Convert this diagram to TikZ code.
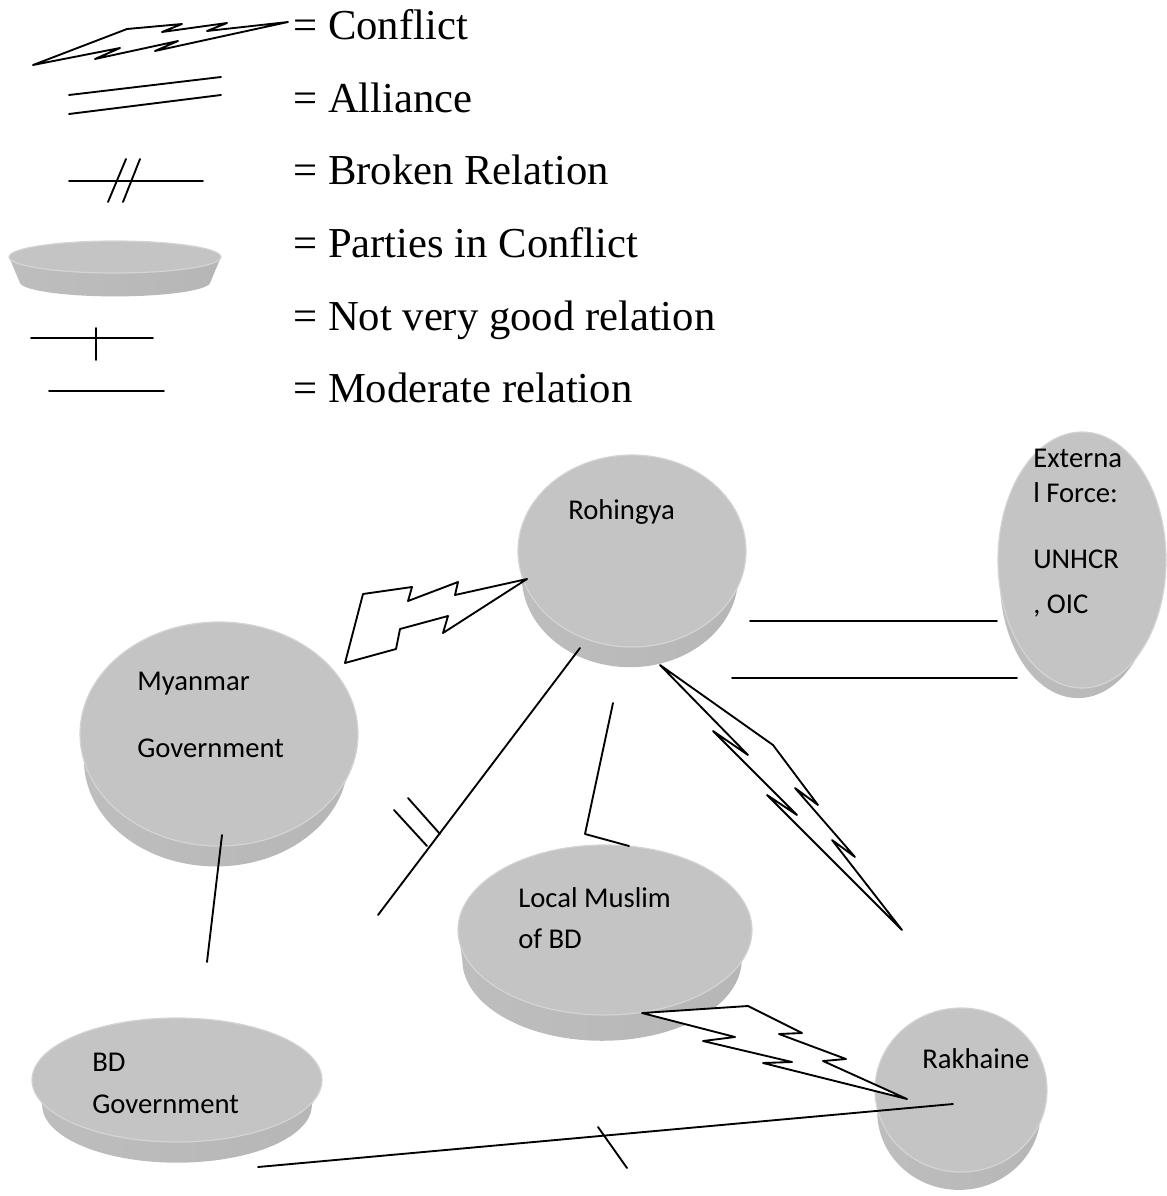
\documentclass[tikz,border=0pt]{standalone}
\usepackage{fontspec}
\setmainfont{Liberation Serif}
\newfontfamily\calibri{Carlito}
\usetikzlibrary{shapes.geometric}

\definecolor{facegray}{HTML}{C4C4C4}
\definecolor{rimgray}{HTML}{D4D4D4}
\definecolor{sideleft}{HTML}{BEBEBE}
\definecolor{sidemid}{HTML}{A3A3A3}
\definecolor{sideright}{HTML}{B6B6B6}

\tikzset{
  face/.style={ellipse, fill=facegray, draw=rimgray, line width=0.9pt, inner sep=0pt, outer sep=0pt},
  rel/.style={line width=1.4pt, line join=round, line cap=round},
  bolt/.style={rel, fill=white},
  lbl/.style={font=\calibri\fontsize{21.5}{26}\selectfont, anchor=base west, inner sep=0pt},
  legtext/.style={font=\fontsize{32}{38}\selectfont, anchor=base west, inner sep=0pt}
}

% A raised disk: #1 name, #2 cx, #3 cy, #4 rx, #5 ry, #6 depth,
% #7 scale of the base ellipse, #8 horizontal shift of the base
\newcommand{\disk}[8]{%
  \pgfmathsetmacro\dbx{#4*#7}%
  \pgfmathsetmacro\dby{#5*#7}%
  \pgfmathsetmacro\dcx{#2+#8}%
  \pgfmathsetmacro\dcy{#3+#6}%
  \pgfmathsetmacro\dkx{0.5523*\dbx}%
  \pgfmathsetmacro\dky{0.5523*\dby}%
  \shade[left color=sideleft, middle color=sidemid, right color=sideright]
    (#2-#4,#3) -- (\dcx-\dbx,\dcy)
    .. controls (\dcx-\dbx,\dcy+\dky) and (\dcx-\dkx,\dcy+\dby) .. (\dcx,\dcy+\dby)
    .. controls (\dcx+\dkx,\dcy+\dby) and (\dcx+\dbx,\dcy+\dky) .. (\dcx+\dbx,\dcy)
    -- (#2+#4,#3) -- cycle;
  \node[face, minimum width=#4*1.5pt, minimum height=#5*1.5pt] (#1) at (#2,#3) {};
}

\begin{document}
\begin{tikzpicture}[x=0.75pt, y=-0.75pt]
\fill[white] (0,0) rectangle (1167,1196);
\useasboundingbox (0,0) rectangle (1167,1196);

% ---------- legend ----------
\draw[rel] (33,65) -- (127,29) -- (182,24) -- (162,32) -- (227,23) -- (207,31) -- (288,22)
  -- (155,51) -- (178,41) -- (95,59) -- (120,48) -- cycle;
\node[legtext] (lgConflict) at (293,39) {= Conflict};

\draw[rel] (69,95) -- (221,77);
\draw[rel] (69,114) -- (221,95);
\node[legtext] (lgAlliance) at (293,112) {= Alliance};

\draw[rel] (69,181) -- (203,181);
\draw[rel] (108,202) -- (126,159);
\draw[rel] (123,202) -- (140,159);
\node[legtext] (lgBroken) at (293,184) {= Broken Relation};

\disk{legdisk}{115}{257}{106}{16}{25}{0.9}{0}
\node[legtext] (lgParties) at (293,257) {= Parties in Conflict};

\draw[rel] (31,338) -- (153,338);
\draw[rel] (96,328) -- (96,360);
\node[legtext] (lgNotGood) at (293,330) {= Not very good relation};

\draw[rel] (49,391) -- (164,391);
\node[legtext] (lgModerate) at (293,402) {= Moderate relation};

% ---------- parties ----------
\disk{roh}{632}{551}{114}{96}{25}{0.95}{-2}
\disk{ext}{1082}{560}{84}{128}{19}{0.93}{-4}
\disk{mg}{219}{734}{139}{112}{26}{0.95}{-3}
\disk{lm}{605}{930}{147}{85}{30}{0.95}{-3}
\disk{bd}{177}{1080}{145}{62}{25}{0.93}{0}
\disk{rak}{961}{1090}{86}{82}{22}{0.95}{-2}

\node[lbl] (rohText) at (568,519) {Rohingya};
\node[lbl] (extText1) at (1033,467) {Externa};
\node[lbl] (extText2) at (1033,502) {l Force:};
\node[lbl] (extText3) at (1033,568) {UNHCR};
\node[lbl] (extText4) at (1033,613) {, OIC};
\node[lbl] (mgText1) at (137,690) {Myanmar};
\node[lbl] (mgText2) at (137,757) {Government};
\node[lbl] (lmText1) at (518,907) {Local Muslim};
\node[lbl] (lmText2) at (518,948) {of BD};
\node[lbl] (bdText1) at (92,1071) {BD};
\node[lbl] (bdText2) at (92,1113) {Government};
\node[lbl] (rakText) at (922,1068) {Rakhaine};

% ---------- relation end points ----------
\coordinate (mgBolt) at (345,663);
\coordinate (rohBoltW) at (527,579);
\coordinate (rohBroken) at (580,648);
\coordinate (brokenEnd) at (378,915);
\coordinate (rohMod) at (613,703);
\coordinate (lmMod) at (629,846);
\coordinate (rohAllyA) at (750,621);
\coordinate (extAllyA) at (997,621);
\coordinate (rohAllyB) at (732,678);
\coordinate (extAllyB) at (1017,678);
\coordinate (rohBoltS) at (660,665);
\coordinate (rakBoltN) at (902,930);
\coordinate (lmBolt) at (642,1013);
\coordinate (rakBoltW) at (907,1099);
\coordinate (mgLine) at (222,835);
\coordinate (bdLine) at (207,962);
\coordinate (bdLineB) at (258,1167);
\coordinate (rakLine) at (953,1104);

% ---------- relations ----------
% conflict: Myanmar Government -- Rohingya
\draw[bolt] (mgBolt) -- (363,594) -- (412,587) -- (408,601) -- (458,582) -- (455,595)
  -- (rohBoltW) -- (443,633) -- (448,616) -- (400,629) -- (396,649) -- cycle;
% broken relation: Rohingya -- Myanmar Government
\draw[rel] (rohBroken) -- (brokenEnd);
\draw[rel] (394,810) -- (427,846);
\draw[rel] (408,798) -- (440,834);
% moderate relation: Rohingya -- Local Muslim
\draw[rel] (rohMod) -- (585,834) -- (lmMod);
% alliance: Rohingya -- External Force
\draw[rel] (rohAllyA) -- (extAllyA);
\draw[rel] (rohAllyB) -- (extAllyB);
% conflict: Rohingya -- Rakhaine
\draw[bolt] (rohBoltS) -- (773,745) -- (818,805) -- (795,788) -- (855,857) -- (832,840)
  -- (rakBoltN) -- (767,795) -- (797,815) -- (713,731) -- (748,755) -- cycle;
% conflict: Local Muslim -- Rakhaine
\draw[bolt] (lmBolt) -- (748,1006) -- (802,1033) -- (779,1034) -- (846,1059) -- (823,1061)
  -- (rakBoltW) -- (763,1063) -- (792,1062) -- (703,1041) -- (735,1037) -- cycle;
% moderate relation: Myanmar Government -- BD Government
\draw[rel] (mgLine) -- (bdLine);
% not very good relation: BD Government -- Rakhaine
\draw[rel] (bdLineB) -- (rakLine);
\draw[rel] (598,1127) -- (627,1168);
\end{tikzpicture}
\end{document}
